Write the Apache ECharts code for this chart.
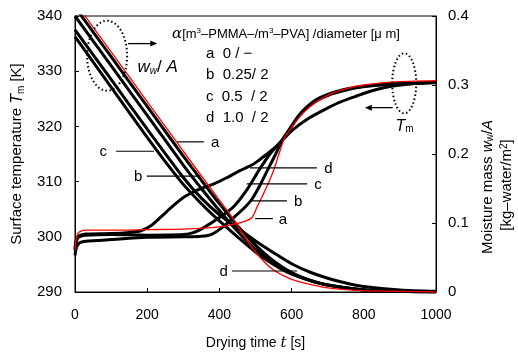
<!DOCTYPE html>
<html><head><meta charset="utf-8">
<script src="https://cdn.jsdelivr.net/npm/echarts@6/dist/echarts.min.js"></script>
<style>html,body{margin:0;padding:0;background:#fff}#c{width:518px;height:356px}</style>
</head><body><div id="c"></div><script>
// ---- Surface temperature Tm [K] (left axis) ----
const tTa = [0,3,8,15,30,100,200,300,400,440,470,490,505,520,535,550,565,580,600,625,650,680,720,760,800,850,900,1000];
const Ta  = [297.6,299.5,300.6,301.0,301.2,301.2,301.3,301.4,301.8,302.3,302.8,303.5,305.5,307.5,309.6,312.0,315.0,317.8,319.8,321.9,323.5,324.9,326.2,327.0,327.5,327.9,328.1,328.3];
const tTb = [0,3,8,15,30,100,200,300,350,380,410,440,470,490,512,535,556,576,596,620,643,670,700,740,780,830,900,1000];
const Tb  = [296.6,297.8,298.6,299.0,299.2,299.5,299.9,300.0,300.1,300.5,301.8,303.5,305.3,306.8,309.3,312.3,315.0,317.7,319.6,321.9,323.4,324.7,325.6,326.4,327.0,327.4,327.7,327.9];
const tTc = [0,3,8,15,30,100,200,300,330,360,400,440,476,512,540,560,576,596,620,643,670,700,740,780,830,900,1000];
const Tc  = [297.5,299.0,299.8,300.1,300.3,300.4,300.3,300.4,300.8,301.8,303.5,305.5,308.5,312.3,315.0,316.5,317.7,319.7,322.0,323.6,324.9,325.8,326.6,327.1,327.5,327.8,328.0];
const tTd = [0,3,8,15,30,100,150,183,210,238,270,302,340,385,420,457,490,512,540,560,576,600,643,690,734,780,830,880,950,1000];
const Td  = [297.8,299.3,300.0,300.3,300.5,300.6,300.8,301.1,302.0,303.6,305.5,307.2,308.5,309.6,310.7,312.0,313.0,314.0,315.4,316.5,317.6,319.2,321.3,323.0,324.4,325.5,326.6,327.3,327.8,328.0];

// ---- Moisture mass ww/A [kg-water/m2] (right axis) ----
const tWa = [0,100,200,300,400,440,470,500,540,580,620,700,800,900,1000];
const Wa  = [0.420,0.348,0.276,0.204,0.133,0.105,0.080,0.058,0.036,0.023,0.015,0.006,0.002,0.001,0];
const tWb = [0,100,200,300,350,400,450,500,550,600,650,700,800,900,1000];
const Wb  = [0.413,0.341,0.269,0.197,0.162,0.128,0.096,0.068,0.045,0.028,0.017,0.010,0.003,0.001,0];
const tWb2 = [0,100,200,300,350,400,450,500,550,600,650,700,800,900,1000];
const Wb2  = [0.400,0.328,0.256,0.184,0.150,0.118,0.088,0.062,0.042,0.027,0.017,0.010,0.003,0.001,0];
const tWd = [0,100,200,300,350,400,450,500,550,600,650,700,750,800,900,1000];
const Wd  = [0.380,0.308,0.236,0.166,0.136,0.112,0.093,0.074,0.057,0.041,0.029,0.020,0.013,0.008,0.003,0.001];
const tWc = [0,100,200,250,300,350,400,450,500,550,600,700,800,900,1000];
const Wc  = [0.370,0.297,0.224,0.189,0.156,0.128,0.103,0.080,0.058,0.040,0.026,0.010,0.003,0.001,0];

const xTicks = [0,200,400,600,800,1000];
const legendRows = ['a  0 / −', 'b  0.25/ 2', 'c  0.5  / 2', 'd  1.0  / 2'];

const FONT = 'Liberation Sans, Arial, sans-serif';
const zip = (t, v) => t.map((x, i) => [x, v[i]]);

const chart = echarts.init(document.getElementById('c'), null, {renderer: 'canvas'});

function mkSeries(name, axis, t, v, red) {
  return {name, type: 'line', yAxisIndex: axis, data: zip(t, v), showSymbol: false, symbol: 'none',
    smooth: 0.25, z: red ? 3 : 2,
    lineStyle: {color: red ? '#ff0000' : '#000', width: red ? 1.3 : 3}};
}

chart.setOption({
  animation: false,
  backgroundColor: '#fff',
  grid: {left: 75, right: 82, top: 16, bottom: 62, show: true, borderColor: '#000', borderWidth: 1},
  xAxis: {
    type: 'value', min: xTicks[0], max: xTicks[xTicks.length - 1], interval: 200,
    axisLine: {lineStyle: {color: '#000', width: 1}},
    axisTick: {inside: true, length: 4, lineStyle: {color: '#000'}},
    splitLine: {show: false},
    axisLabel: {color: '#000', fontSize: 14, fontFamily: FONT, margin: 16, formatter: v => String(v)},
    name: '{n|Drying time }{i|t}{n| [s]}', nameLocation: 'middle', nameGap: 44,
    nameTextStyle: {rich: {
      n: {fontSize: 14, fontFamily: FONT, color: '#000'},
      i: {fontSize: 15, fontFamily: 'DejaVu Serif, serif', fontStyle: 'italic', color: '#000'}
    }}
  },
  yAxis: [{
    type: 'value', min: 290, max: 340, interval: 10,
    axisLine: {show: true, lineStyle: {color: '#000', width: 1}},
    axisTick: {show: true, inside: true, length: 4, lineStyle: {color: '#000'}},
    splitLine: {show: false},
    axisLabel: {color: '#000', fontSize: 15, fontFamily: FONT, margin: 13},
    name: '{n|Surface temperature }{i|T}{s|m}{n| [K]}', nameLocation: 'middle', nameGap: 48, nameRotate: 90,
    nameTextStyle: {rich: {
      n: {fontSize: 15, fontFamily: FONT, color: '#000', lineHeight: 18},
      i: {fontSize: 16, fontFamily: FONT, fontStyle: 'italic', color: '#000', lineHeight: 18},
      s: {fontSize: 10, fontFamily: FONT, color: '#000', verticalAlign: 'bottom', lineHeight: 14}
    }}
  }, {
    type: 'value', min: 0, max: 0.4, interval: 0.1, position: 'right',
    axisLine: {show: true, lineStyle: {color: '#000', width: 1}},
    axisTick: {show: true, inside: true, length: 4, lineStyle: {color: '#000'}},
    splitLine: {show: false},
    axisLabel: {color: '#000', fontSize: 15, fontFamily: FONT, margin: 12,
      formatter: v => v === 0 ? '0' : v.toFixed(1)}
  }],
  series: [
    mkSeries('Tm d', 0, tTd, Td), mkSeries('Tm c', 0, tTc, Tc), mkSeries('Tm b', 0, tTb, Tb), mkSeries('Tm a', 0, tTa, Ta, true),
    mkSeries('ww/A d', 1, tWd, Wd), mkSeries('ww/A c', 1, tWc, Wc), mkSeries('ww/A b2', 1, tWb2, Wb2), mkSeries('ww/A b', 1, tWb, Wb),
    mkSeries('ww/A a', 1, tWa, Wa, true)
  ]
});

// ---- annotations ----
const P = (t, v) => chart.convertToPixel({xAxisIndex: 0, yAxisIndex: 0}, [t, v]);
const labelLines = [
  {txt: 'a', T: 317.2, x1: 283, x2: 357, tx: 388},
  {txt: 'c', T: 315.5, x1: 114, x2: 219, tx: 78},
  {txt: 'b', T: 311.0, x1: 199, x2: 346, tx: 175},
  {txt: 'd', T: 293.8, x1: 435, x2: 615, tx: 412},
  {txt: 'd', T: 312.5, x1: 485, x2: 670, tx: 702},
  {txt: 'c', T: 309.6, x1: 476, x2: 643, tx: 673},
  {txt: 'b', T: 306.5, x1: 488, x2: 587, tx: 618},
  {txt: 'a', T: 303.3, x1: 499, x2: 548, tx: 576}
];
const g = [];
labelLines.forEach(l => {
  const a = P(l.x1, l.T), b = P(l.x2, l.T), c = P(l.tx, l.T);
  g.push({type: 'line', shape: {x1: a[0], y1: a[1], x2: b[0], y2: b[1]}, style: {stroke: '#000', lineWidth: 1.2}, z: 10});
  g.push({type: 'text', x: c[0], y: c[1] + 1, style: {text: l.txt, font: '15px ' + FONT, fill: '#000', align: 'center', verticalAlign: 'middle'}, z: 10});
});
// dotted ellipses and arrows
const e1 = P(89, 332.8), e2 = P(912, 327.8);
g.push({type: 'ellipse', shape: {cx: e1[0], cy: e1[1], rx: 20, ry: 35}, style: {fill: 'none', stroke: '#000', lineWidth: 2, lineDash: [1.5, 2.5]}, z: 10});
g.push({type: 'ellipse', shape: {cx: e2[0], cy: e2[1], rx: 12, ry: 30}, style: {fill: 'none', stroke: '#000', lineWidth: 2, lineDash: [1.5, 2.5]}, z: 10});
const a1 = P(147, 335.0), a1e = P(228, 335.0);
g.push({type: 'line', shape: {x1: a1[0], y1: a1[1], x2: a1e[0] - 6, y2: a1e[1]}, style: {stroke: '#000', lineWidth: 1.3}, z: 10});
g.push({type: 'polygon', shape: {points: [[a1e[0], a1e[1]], [a1e[0] - 7, a1e[1] - 3], [a1e[0] - 7, a1e[1] + 3]]}, style: {fill: '#000'}, z: 10});
const a2 = P(880, 323.4), a2e = P(803, 323.4);
g.push({type: 'line', shape: {x1: a2[0], y1: a2[1], x2: a2e[0] + 6, y2: a2e[1]}, style: {stroke: '#000', lineWidth: 1.3}, z: 10});
g.push({type: 'polygon', shape: {points: [[a2e[0], a2e[1]], [a2e[0] + 7, a2e[1] - 3], [a2e[0] + 7, a2e[1] + 3]]}, style: {fill: '#000'}, z: 10});
const wl = P(173, 330.7);
g.push({type: 'text', x: wl[0], y: wl[1], style: {
  text: '{i|w}{s|w}{n|/ }{i|A}', verticalAlign: 'middle', align: 'left',
  rich: {i: {font: 'italic 17px ' + FONT, fill: '#000'}, s: {font: 'italic 10px ' + FONT, fill: '#000', verticalAlign: 'bottom'}, n: {font: '17px ' + FONT, fill: '#000'}}
}, z: 10});
const tl = P(888, 320.0);
g.push({type: 'text', x: tl[0], y: tl[1], style: {
  text: '{i|T}{s|m}', verticalAlign: 'middle', align: 'left',
  rich: {i: {font: 'italic 16px ' + FONT, fill: '#000'}, s: {font: '10px ' + FONT, fill: '#000', verticalAlign: 'bottom'}}
}, z: 10});
// legend block
g.push({type: 'text', x: 172, y: 34, style: {
  text: '{g|α}{n|[m}{u|3}{n|–PMMA–/m}{u|3}{n|–PVA] /diameter [μ m]}', verticalAlign: 'middle', align: 'left',
  rich: {g: {font: 'italic 15px DejaVu Serif, serif', fill: '#000'}, n: {font: '13px ' + FONT, fill: '#000'}, u: {font: '8px ' + FONT, fill: '#000', verticalAlign: 'top'}}
}, z: 10});
legendRows.forEach((r, i) => {
  g.push({type: 'text', x: 206, y: 54 + i * 21.3, style: {text: r, font: '15px ' + FONT, fill: '#000', align: 'left', verticalAlign: 'middle'}, z: 10});
});
// right axis name (two lines, rotated)
g.push({type: 'text', x: 488, y: 187, rotation: Math.PI / 2, style: {
  text: '{n|Moisture mass }{i|w}{s|w}{n|/}{i|A}', align: 'center', verticalAlign: 'middle',
  rich: {n: {font: '15px ' + FONT, fill: '#000'}, i: {font: 'italic 15px ' + FONT, fill: '#000'}, s: {font: '10px ' + FONT, fill: '#000', verticalAlign: 'bottom'}}
}, z: 10});
g.push({type: 'text', x: 507, y: 185, rotation: Math.PI / 2, style: {
  text: '{n|[kg–water/m}{u|2}{n|]}', align: 'center', verticalAlign: 'middle',
  rich: {n: {font: '15px ' + FONT, fill: '#000'}, u: {font: '10px ' + FONT, fill: '#000', verticalAlign: 'top'}}
}, z: 10});
chart.setOption({graphic: g});
</script></body></html>
